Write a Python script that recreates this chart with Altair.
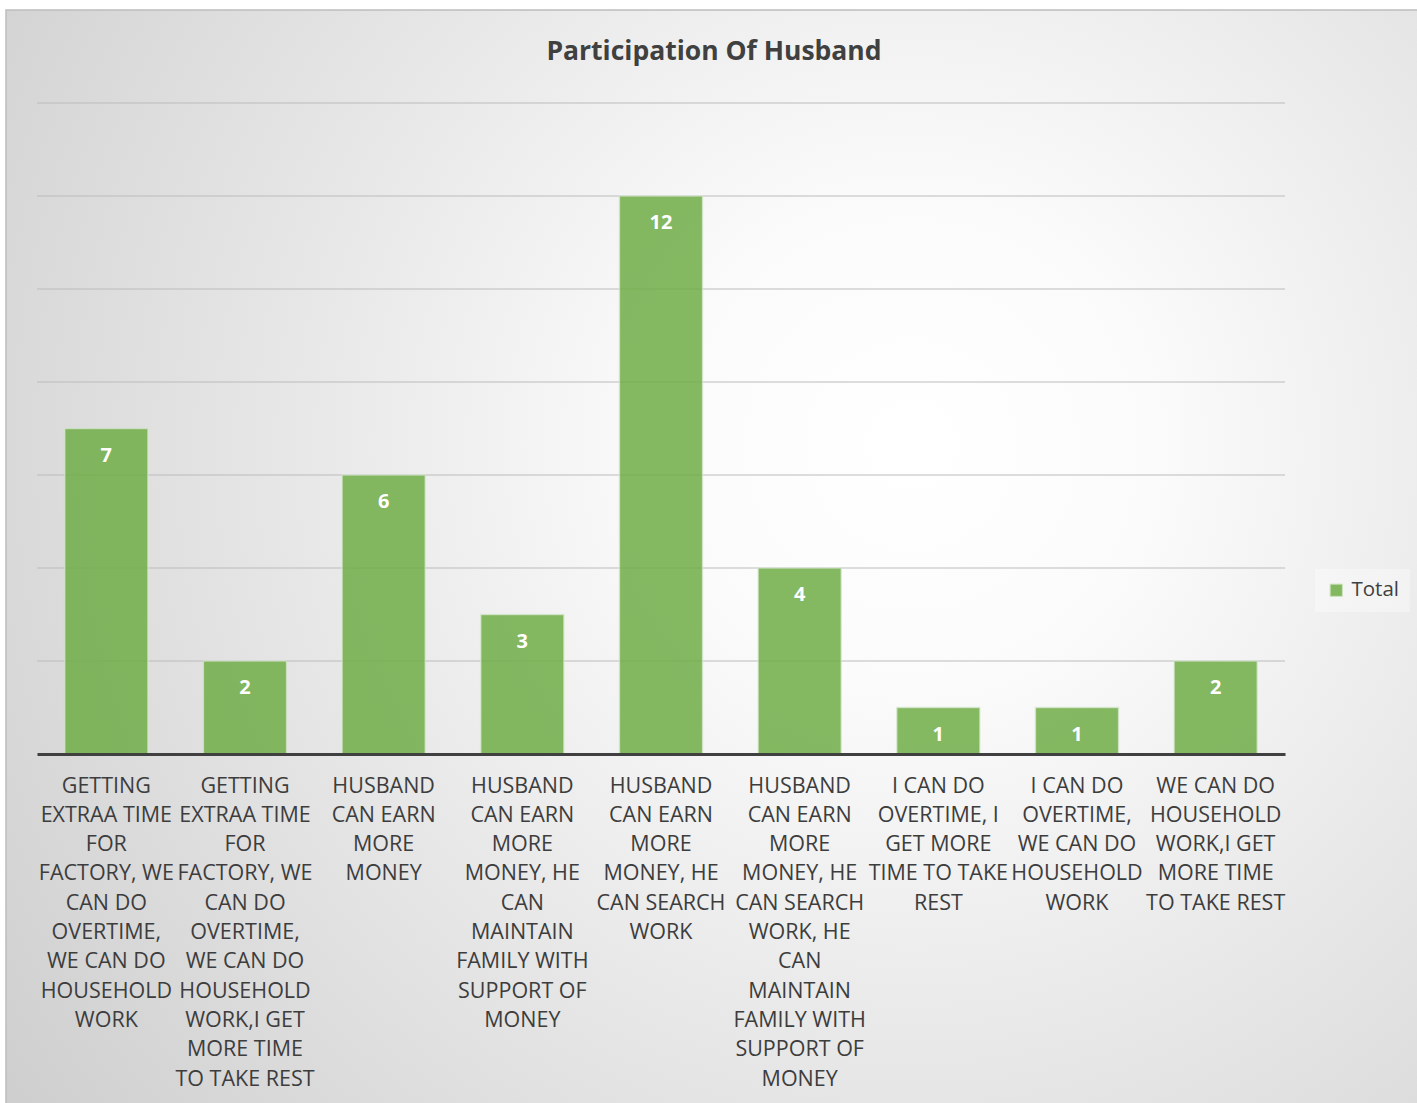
import altair as alt
import pandas as pd

labels = [
    "GETTING|EXTRAA TIME|FOR|FACTORY, WE|CAN DO|OVERTIME,|WE CAN DO|HOUSEHOLD|WORK",
    "GETTING|EXTRAA TIME|FOR|FACTORY, WE|CAN DO|OVERTIME,|WE CAN DO|HOUSEHOLD|WORK,I GET|MORE TIME|TO TAKE REST",
    "HUSBAND|CAN EARN|MORE|MONEY",
    "HUSBAND|CAN EARN|MORE|MONEY, HE|CAN|MAINTAIN|FAMILY WITH|SUPPORT OF|MONEY",
    "HUSBAND|CAN EARN|MORE|MONEY, HE|CAN SEARCH|WORK",
    "HUSBAND|CAN EARN|MORE|MONEY, HE|CAN SEARCH|WORK, HE|CAN|MAINTAIN|FAMILY WITH|SUPPORT OF|MONEY",
    "I CAN DO|OVERTIME, I|GET MORE|TIME TO TAKE|REST",
    "I CAN DO|OVERTIME,|WE CAN DO|HOUSEHOLD|WORK",
    "WE CAN DO|HOUSEHOLD|WORK,I GET|MORE TIME|TO TAKE REST",
]
totals = [7, 2, 6, 3, 12, 4, 1, 1, 2]
series = ["Total"] * len(labels)
grid_values = [2, 4, 6, 8, 10, 12, 14]
title_text = "Participation Of Husband"

df = pd.DataFrame({"cat": labels, "value": totals, "series": series})
grid_df = pd.DataFrame({"g": grid_values})

FONT = "Open Sans"
W, H = 1248, 651
PL, PT = 37, 103

bg = alt.Chart(alt.Data(values=[{"a": 1}])).mark_rect(
    fill=alt.RadialGradient(
        gradient="radial",
        x1=0.64, y1=0.42, r1=0,
        x2=0.64, y2=0.42, r2=0.85,
        stops=[
            alt.GradientStop(color="#ffffff", offset=0),
            alt.GradientStop(color="#fbfbfb", offset=0.2),
            alt.GradientStop(color="#e8e8e8", offset=0.5),
            alt.GradientStop(color="#cacaca", offset=1),
        ],
    ),
    stroke="#bdbdbd",
    strokeWidth=1.5,
).encode(
    x=alt.value(6 - PL), x2=alt.value(1417 - PL + 5),
    y=alt.value(10 - PT), y2=alt.value(1103 - PT + 5),
)

title = alt.Chart(alt.Data(values=[{"a": 1}])).mark_text(
    font=FONT, fontSize=26.5, fontWeight="bold", color="#404040",
    align="center", baseline="alphabetic",
).encode(
    x=alt.value(714 - PL), y=alt.value(60 - PT), text=alt.value(title_text)
)

y_scale = alt.Scale(domain=[0, 14], nice=False)

grid = alt.Chart(grid_df).mark_rule(color="#bcbcbc", strokeWidth=1.2).encode(
    y=alt.Y("g:Q", scale=y_scale, axis=None),
    x=alt.value(0), x2=alt.value(W),
)

base = alt.Chart(df)

bars = base.mark_bar(
    opacity=0.85, stroke="#d9ead0", strokeWidth=1.5, strokeOpacity=0.7,
).encode(
    x=alt.X(
        "cat:N", sort=None,
        scale=alt.Scale(paddingInner=0.4, paddingOuter=0.2),
        axis=alt.Axis(
            title=None, labelAngle=0, labelAlign="center", labelBaseline="top",
            labelExpr="split(datum.label, '|')", labelLimit=0,
            labelFont=FONT, labelFontSize=21.5, labelColor="#3d3d3d",
            labelLineHeight=29.3, labelPadding=21,
            ticks=False, domainColor="#404040", domainWidth=3, grid=False,
            zindex=1,
        ),
    ),
    y=alt.Y("value:Q", scale=y_scale, axis=None),
    color=alt.Color(
        "series:N",
        scale=alt.Scale(range=["#70ad47"]),
        legend=alt.Legend(
            title=None, orient="none", legendX=1315 - PL, legendY=569 - PT,
            symbolType="square", symbolSize=150, symbolOpacity=0.85,
            symbolStrokeColor="#c5e0b4", symbolStrokeWidth=1,
            labelFont=FONT, labelFontSize=20.5, labelColor="#404040",
            fillColor="rgba(255,255,255,0.35)", padding=11,
            labelOffset=5, symbolOffset=0,
        ),
    ),
)

texts = base.mark_text(
    font=FONT, fontSize=20, fontWeight="bold", color="white",
    align="center", baseline="middle", dy=27,
).encode(
    x=alt.X("cat:N", sort=None),
    y=alt.Y("value:Q", scale=y_scale),
    text=alt.Text("value:Q"),
)

chart = alt.layer(bg, title, grid, bars, texts).properties(
    width=W, height=H,
    autosize=alt.AutoSizeParams(type="none"),
    padding={"left": PL, "top": PT, "right": 1417 - PL - W, "bottom": 1103 - PT - H},
    background="white",
).configure_view(stroke=None)

chart.save("out.html", embed_options={"renderer": "svg", "actions": False})
